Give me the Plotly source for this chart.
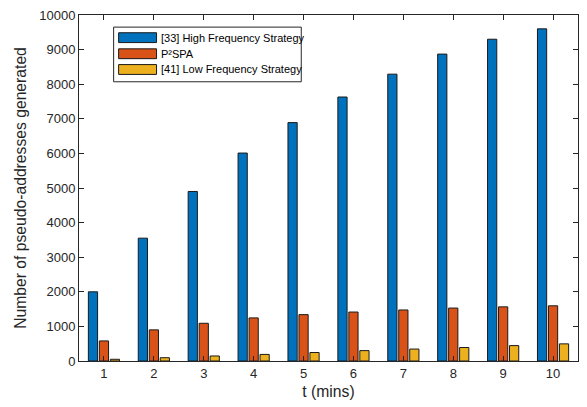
import plotly.graph_objects as go

t = [1, 2, 3, 4, 5, 6, 7, 8, 9, 10]
high_freq = [2000, 3550, 4900, 6010, 6890, 7630, 8290, 8870, 9300, 9600]
p2spa = [580, 900, 1090, 1245, 1340, 1415, 1475, 1530, 1565, 1595]
low_freq = [50, 95, 145, 190, 245, 300, 345, 390, 445, 495]
names = ["[33] High Frequency Strategy", "P²SPA", "[41] Low Frequency Strategy"]
colors = ["#0072BD", "#D95319", "#EDB120"]
yticks = list(range(0, 10001, 1000))

fig = go.Figure()
for vals, nm, c in zip([high_freq, p2spa, low_freq], names, colors):
    fig.add_trace(go.Bar(x=t, y=vals, name=nm, marker=dict(color=c, line=dict(color="#1a1a1a", width=1)),
                         showlegend=False))

axis_common = dict(showline=True, linecolor="#262626", linewidth=1, mirror="allticks",
                   ticks="inside", ticklen=5, tickcolor="#262626", tickwidth=1,
                   showgrid=False, zeroline=False,
                   tickfont=dict(family="Liberation Sans, Arial", size=13, color="#262626"),
                   title_font=dict(family="Liberation Sans, Arial", size=15.7, color="#262626"))

fig.update_layout(
    width=587, height=407,
    margin=dict(l=79, r=8, t=10, b=46),
    paper_bgcolor="white", plot_bgcolor="white",
    barmode="group", bargap=0.34, bargroupgap=0.16,
    xaxis=dict(range=[0.5, 10.5], tickvals=t, ticktext=[str(v) for v in t],
               title=dict(text="t (mins)", standoff=6), **axis_common),
    yaxis=dict(range=[0, 10000], tickvals=yticks, ticktext=[str(v) for v in yticks],
               title=dict(text="Number of pseudo-addresses generated", standoff=8), **axis_common),
)

# custom MATLAB-style legend
lx0, lx1, ly0, ly1 = 0.0694, 0.4454, 0.807, 0.965
fig.add_shape(type="rect", xref="paper", yref="paper", x0=lx0, x1=lx1, y0=ly0, y1=ly1,
              line=dict(color="#262626", width=1), fillcolor="white", layer="above")
row_y = [0.9345, 0.888, 0.8425]
for ry, nm, c in zip(row_y, names, colors):
    fig.add_shape(type="rect", xref="paper", yref="paper", x0=0.0794, x1=0.1554,
                  y0=ry - 0.0142, y1=ry + 0.0142, line=dict(color="#1a1a1a", width=1),
                  fillcolor=c, layer="above")
    fig.add_annotation(xref="paper", yref="paper", x=0.1594, y=ry, text=nm, showarrow=False,
                       xanchor="left", yanchor="middle",
                       font=dict(family="Liberation Sans, Arial", size=11, color="#000000"))

fig.write_html("out.html")
